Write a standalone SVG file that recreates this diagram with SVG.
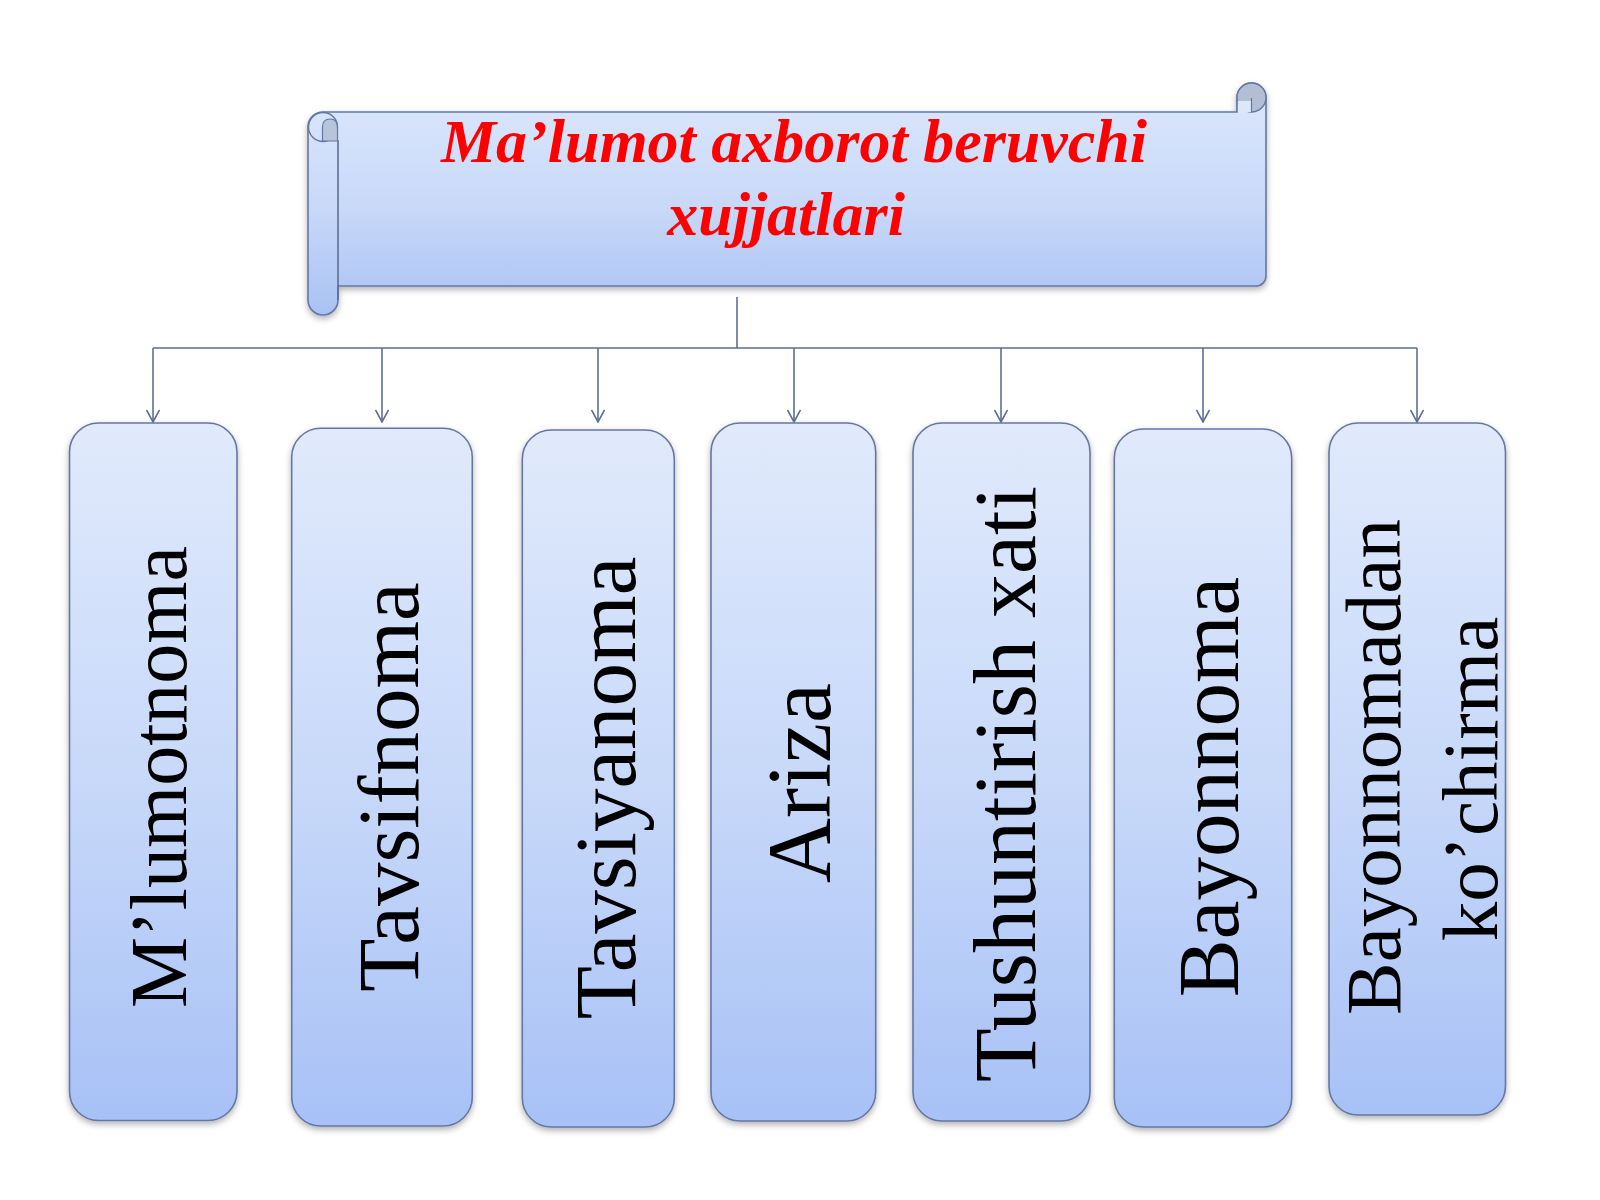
<svg xmlns="http://www.w3.org/2000/svg" width="1600" height="1200" viewBox="0 0 1600 1200">
  <defs>
    <linearGradient id="boxG" x1="0" y1="0" x2="0" y2="1">
      <stop offset="0" stop-color="#e1eafc"/>
      <stop offset="0.5" stop-color="#c8d9f9"/>
      <stop offset="1" stop-color="#a8c1f6"/>
    </linearGradient>
    <linearGradient id="scrollG" x1="0" y1="0" x2="0" y2="1">
      <stop offset="0" stop-color="#dde8fc"/>
      <stop offset="0.55" stop-color="#c7d8f8"/>
      <stop offset="1" stop-color="#a9c2f3"/>
    </linearGradient>
    <filter id="shadow" x="-10%" y="-10%" width="120%" height="120%">
      <feDropShadow dx="0" dy="3" stdDeviation="3" flood-color="#000" flood-opacity="0.3"/>
    </filter>
    <marker id="arrow" viewBox="0 0 14 14" refX="13" refY="7" markerWidth="14" markerHeight="14" markerUnits="userSpaceOnUse" orient="auto">
      <path d="M1,0.5 L13,7 L1,13.5" fill="none" stroke="#5e6f94" stroke-width="1.6"/>
    </marker>
    <style>
      .box { fill: url(#boxG); stroke: #6477a2; stroke-width: 1.6; filter: url(#shadow); }
      .scroll { fill: url(#scrollG); stroke: #6477a2; stroke-width: 1.6; }
      .line { fill: none; stroke: #5e6f94; stroke-width: 1.6; }
      .lbl { font-family: "Liberation Serif", "Times New Roman", serif; fill: #000; text-anchor: middle; }
      .title { font-family: "Liberation Serif", "Times New Roman", serif; font-weight: bold; font-style: italic; fill: #ff0000; text-anchor: middle; font-size: 62px; }
    </style>
  </defs>

  <rect x="0" y="0" width="1600" height="1200" fill="#ffffff"/>

  <g id="title">
    <g filter="url(#shadow)">
      <path class="scroll" d="M308,127 A15,15 0 0 1 323,112 L1237,112 L1237,97.5 A14.5,14.5 0 0 1 1266,97.5 L1266,276 A10,10 0 0 1 1256,286 L338,286 L338,300 A15,15 0 0 1 308,300 Z"/>
    </g>
    <path class="line" d="M338,140 L338,300" stroke="#6477a2"/>
    <circle cx="323" cy="127" r="14.5" fill="none" stroke="#6477a2" stroke-width="1.4"/>
    <path d="M322.5,141 L322.5,127 Q322.5,119 330,119 Q337.5,119 337.5,128 L337.5,141 Z" fill="#b8c4da" stroke="#6477a2" stroke-width="1.2"/>
    <circle cx="1251.5" cy="97.5" r="14.5" fill="#b3bed4" stroke="#6477a2" stroke-width="1.4"/>
    <path d="M1237.5,101 L1251.5,101 L1251.5,112 L1237.5,112 Z" fill="#dde8fc" stroke="none"/>
    <path d="M1237,100 L1237,112 M1251.5,98 L1251.5,112" fill="none" stroke="#6477a2" stroke-width="1.2"/>
    <text class="title" x="794" y="162">Ma’lumot axborot beruvchi</text>
    <text class="title" x="786" y="235">xujjatlari</text>
  </g>

  <g id="connectors">
    <path class="line" d="M737,297 L737,348 M153,348 L1417,348"/>
    <line class="line" x1="153" y1="348" x2="153" y2="422" marker-end="url(#arrow)"/>
    <line class="line" x1="382" y1="348" x2="382" y2="422" marker-end="url(#arrow)"/>
    <line class="line" x1="598" y1="348" x2="598" y2="422" marker-end="url(#arrow)"/>
    <line class="line" x1="794" y1="348" x2="794" y2="422" marker-end="url(#arrow)"/>
    <line class="line" x1="1001" y1="348" x2="1001" y2="422" marker-end="url(#arrow)"/>
    <line class="line" x1="1203" y1="348" x2="1203" y2="422" marker-end="url(#arrow)"/>
    <line class="line" x1="1417" y1="348" x2="1417" y2="422" marker-end="url(#arrow)"/>
  </g>

  <g id="node1">
    <rect class="box" x="69.5" y="423" width="167.5" height="697.5" rx="29"/>
    <text class="lbl" font-size="80" transform="translate(186,777) rotate(-90)">M’lumotnoma</text>
  </g>
  <g id="node2">
    <rect class="box" x="291.7" y="428.3" width="180.6" height="697.7" rx="29"/>
    <text class="lbl" font-size="87" transform="translate(418,787) rotate(-90)">Tavsifnoma</text>
  </g>
  <g id="node3">
    <rect class="box" x="522.3" y="430" width="152" height="697" rx="29"/>
    <text class="lbl" font-size="87" transform="translate(635,788) rotate(-90)">Tavsiyanoma</text>
  </g>
  <g id="node4">
    <rect class="box" x="711" y="423" width="164.7" height="698" rx="29"/>
    <text class="lbl" font-size="90" transform="translate(830,783) rotate(-90)">Ariza</text>
  </g>
  <g id="node5">
    <rect class="box" x="913" y="423" width="177" height="698" rx="29"/>
    <text class="lbl" font-size="88" transform="translate(1035,784) rotate(-90)">Tushuntirish xati</text>
  </g>
  <g id="node6">
    <rect class="box" x="1114.3" y="429" width="177.4" height="698" rx="29"/>
    <text class="lbl" font-size="87" transform="translate(1238,787) rotate(-90)">Bayonnoma</text>
  </g>
  <g id="node7">
    <rect class="box" x="1329" y="423" width="176.5" height="692" rx="29"/>
    <text class="lbl" font-size="79" transform="translate(1400,767) rotate(-90)">Bayonnomadan</text>
    <text class="lbl" font-size="79" transform="translate(1497,779) rotate(-90)">ko’chirma</text>
  </g>
</svg>
